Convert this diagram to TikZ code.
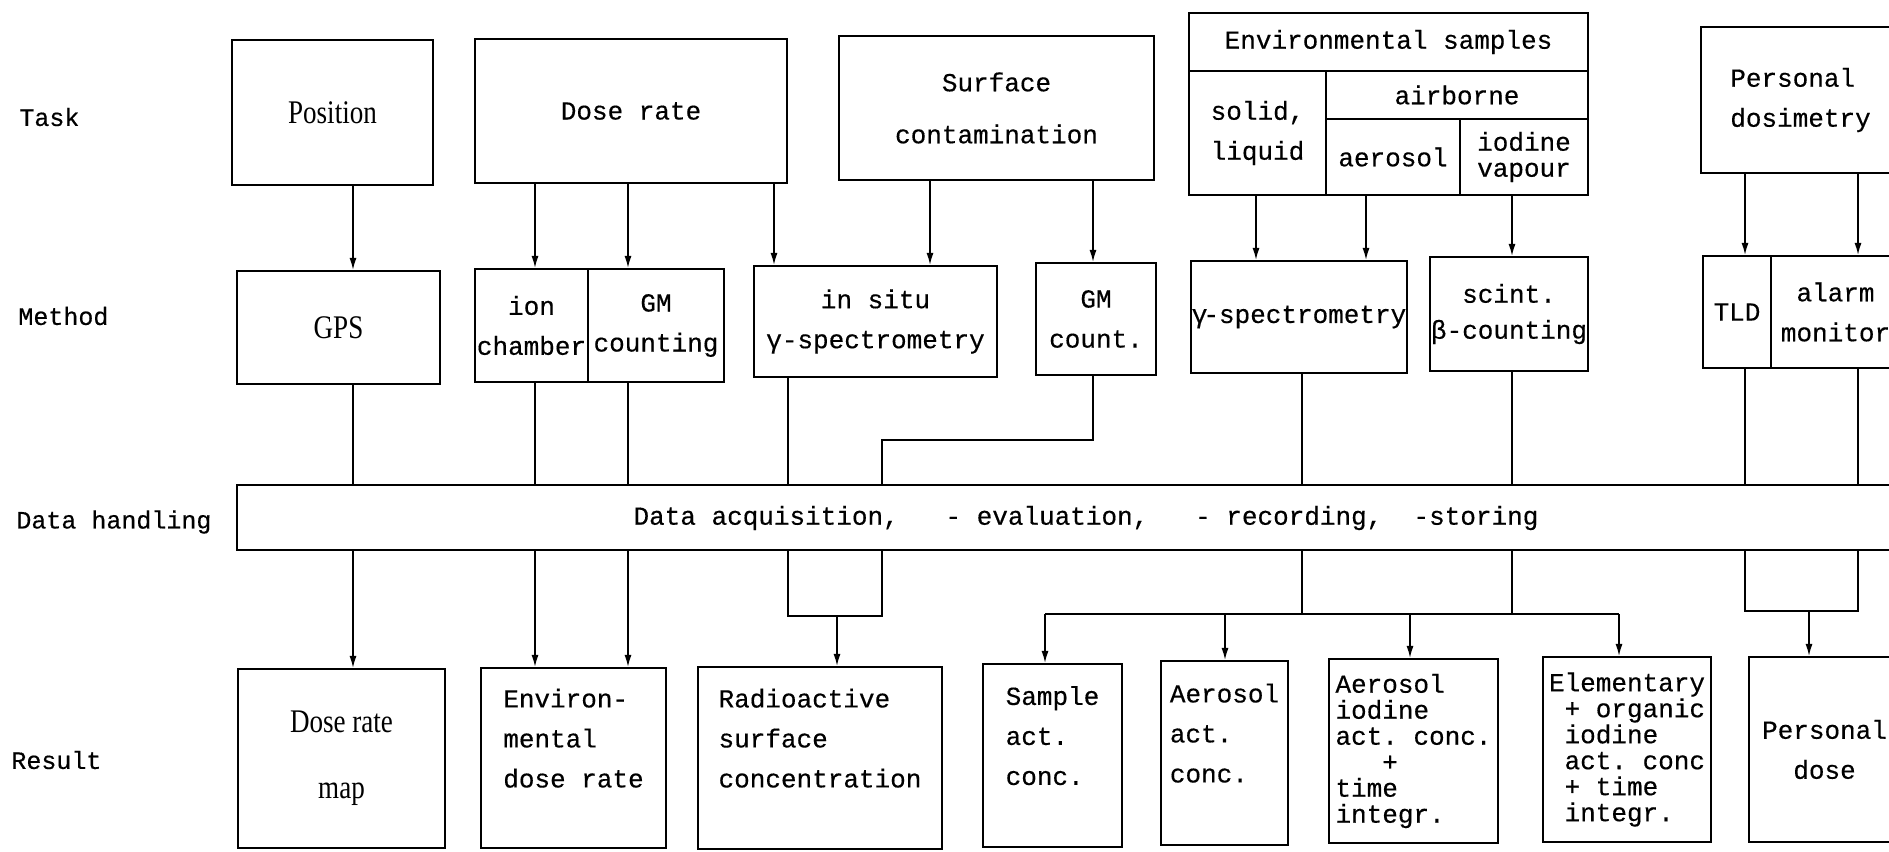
\documentclass[tikz,border=0pt]{standalone}
\usepackage{fontspec}
\setmainfont{Liberation Serif}
\setmonofont[FakeBold=0.4]{Liberation Mono}
\newfontfamily\narrowserif[FakeStretch=0.82]{Liberation Serif}
\usetikzlibrary{arrows.meta}
\tikzset{
 box/.style={draw,line width=1.1pt,inner sep=0pt,align=center,font=\ttfamily\fontsize{13}{20}\selectfont},
 rmbox/.style={box,font=\narrowserif\fontsize{16.5}{33}\selectfont},
 lab/.style={anchor=west,inner sep=0pt,font=\ttfamily\fontsize{12.5}{14}\selectfont},
 con/.style={line width=0.7pt},
 arr/.style={con,-{Latex[length=6pt,width=3.5pt]}}
}

\begin{document}
\begin{tikzpicture}[x=0.5pt,y=-0.5pt]
\useasboundingbox (0,0) rectangle (1889,851);
\clip (0,0) rectangle (1889,851);
 \node[lab] (task) at (19,117) {Task};
 \node[lab] (meth) at (18,316) {Method};
  \node[lab] (hand) at (16,522) {Data handling};
 \node[lab] (res) at (11,760) {Result};

 \node[rmbox,minimum width=100.5pt,minimum height=72.5pt] (pos) at (332.5,112.5) {Position};
 \node[box,minimum width=156pt,minimum height=72pt] (dose) at (631,111) {Dose rate};
 \node[box,minimum width=157.5pt,minimum height=72pt,font=\ttfamily\fontsize{13}{26}\selectfont] (surf) at (996.5,108) {Surface\\contamination};
  \node[box,minimum width=199.5pt,minimum height=29pt] (envh) at (1388.5,42) {Environmental samples};
  \node[box,minimum width=68.5pt,minimum height=62pt] (solid) at (1257.5,133) {solid,\\liquid};
  \node[box,minimum width=131pt,minimum height=24pt] (airb) at (1457,95) {airborne};
  \node[box,minimum width=67pt,minimum height=38pt] (aeros) at (1393,157) {aerosol};
  \node[box,minimum width=64pt,minimum height=38pt,font=\ttfamily\fontsize{13}{13}\selectfont] (iod) at (1524,157) {iodine\\vapour};
 \node[box,minimum width=99.5pt,minimum height=73pt,align=left] (pdos) at (1800.5,100) {Personal\\dosimetry};

 \node[rmbox,minimum width=101.5pt,minimum height=56.5pt] (gps) at (338.5,327.5) {GPS};
 \node[box,minimum width=56.5pt,minimum height=56.5pt] (ion) at (531.5,325.5) {ion\\chamber};
 \node[box,minimum width=68pt,minimum height=56.5pt] (gmc) at (656,325.5) {GM\\counting};
 \node[box,minimum width=121.5pt,minimum height=55.5pt] (insitu) at (875.5,321.5) {in situ\\γ-spectrometry};
 \node[box,minimum width=60pt,minimum height=56pt] (gmcnt) at (1096,319) {GM\\count.};
 \node[box,minimum width=108pt,minimum height=56pt] (gspec) at (1299,317) {γ\kern-2pt-spectrometry};
 \node[box,minimum width=79pt,minimum height=57pt,font=\ttfamily\fontsize{13}{18}\selectfont] (scint) at (1509,314) {scint.\\β-counting};
 \node[box,minimum width=34pt,minimum height=56pt] (tld) at (1737,312) {TLD};
 \node[box,minimum width=64.5pt,minimum height=56pt] (alarm) at (1835.5,312) {alarm\\monitor};

 \node[box,minimum width=831.5pt,minimum height=32.5pt] (data) at (1068.5,517.5) {};
 \node[font=\ttfamily\fontsize{13}{20}\selectfont,inner sep=0pt] (dtxt) at (1086,518) {Data acquisition,\ \ \ - evaluation,\ \ \ - recording,\ \ -storing};

 \node[rmbox,minimum width=103.5pt,minimum height=89.5pt] (map) at (341.5,758.5) {Dose rate\\map};
 \node[box,minimum width=92.5pt,minimum height=90pt,align=left] (envd) at (573.5,758) {Environ-\\mental\\dose rate\\~};
 \node[box,minimum width=122pt,minimum height=91pt,align=left] (rsc) at (820,758) {Radioactive\\surface\\concentration\\~};
 \node[box,minimum width=69.5pt,minimum height=91.5pt,align=left] (sam) at (1052.5,755.5) {Sample\\act.\\conc.\\~};
 \node[box,minimum width=63.5pt,minimum height=92pt,align=left] (aer) at (1224.5,753) {Aerosol\\act.\\conc.\\~};
 \node[box,minimum width=84.5pt,minimum height=92pt,align=left,font=\ttfamily\fontsize{13}{13}\selectfont] (aic) at (1413.5,751) {Aerosol\\iodine\\act. conc.\\\ \ \ +\\time\\integr.};
 \node[box,minimum width=84pt,minimum height=92.5pt,align=left,font=\ttfamily\fontsize{13}{13}\selectfont] (ele) at (1627,749.5) {Elementary\\\ + organic\\\ iodine\\\ act. conc\\\ + time\\\ integr.};
 \node[box,minimum width=75.5pt,minimum height=92.5pt] (pdose) at (1824.5,749.5) {Personal\\dose};

 \coordinate (xgps) at (353,0);
 \coordinate (xion) at (535,0);
 \coordinate (xgm) at (628,0);
 \coordinate (xdr) at (774,0);
 \coordinate (xsf1) at (930,0);
 \coordinate (xsf2) at (1093,0);
 \coordinate (xis) at (788,0);
 \coordinate (xgc) at (882,0);
 \coordinate (xrsc) at (837,0);
 \coordinate (xsol) at (1256,0);
 \coordinate (xaer) at (1366,0);
 \coordinate (xiod) at (1512,0);
 \coordinate (xgs) at (1302,0);
 \coordinate (xsam) at (1045,0);
 \coordinate (xaerc) at (1225,0);
 \coordinate (xaic) at (1410,0);
 \coordinate (xele) at (1619,0);
 \coordinate (xtld) at (1745,0);
 \coordinate (xal) at (1858,0);
 \coordinate (xpd) at (1809,0);
 \coordinate (yjog) at (0,440);
 \coordinate (ybr) at (0,616);
 \coordinate (ysp) at (0,614);
 \coordinate (ypb) at (0,611);

 \draw[arr] (pos.south -| xgps) -- (gps.north -| xgps);
 \draw[arr] (dose.south -| xion) -- (ion.north -| xion);
 \draw[arr] (dose.south -| xgm) -- (gmc.north -| xgm);
 \draw[arr] (dose.south -| xdr) -- (insitu.north -| xdr);
 \draw[arr] (surf.south -| xsf1) -- (insitu.north -| xsf1);
 \draw[arr] (surf.south -| xsf2) -- (gmcnt.north -| xsf2);
 \draw[arr] (solid.south -| xsol) -- (gspec.north -| xsol);
 \draw[arr] (aeros.south -| xaer) -- (gspec.north -| xaer);
 \draw[arr] (iod.south -| xiod) -- (scint.north -| xiod);
 \draw[arr] (pdos.south -| xtld) -- (tld.north -| xtld);
 \draw[arr] (pdos.south -| xal) -- (alarm.north -| xal);

 \draw[con] (gps.south -| xgps) -- (data.north -| xgps);
 \draw[con] (ion.south -| xion) -- (data.north -| xion);
 \draw[con] (gmc.south -| xgm) -- (data.north -| xgm);
 \draw[con] (insitu.south -| xis) -- (data.north -| xis);
 \draw[con] (gmcnt.south -| xsf2) |- (yjog -| xgc) -- (data.north -| xgc);
 \draw[con] (gspec.south -| xgs) -- (data.north -| xgs);
 \draw[con] (scint.south -| xiod) -- (data.north -| xiod);
 \draw[con] (tld.south -| xtld) -- (data.north -| xtld);
 \draw[con] (alarm.south -| xal) -- (data.north -| xal);

 \draw[arr] (data.south -| xgps) -- (map.north -| xgps);
 \draw[arr] (data.south -| xion) -- (envd.north -| xion);
 \draw[arr] (data.south -| xgm) -- (envd.north -| xgm);
 \draw[con] (data.south -| xis) |- (ybr -| xgc) -- (data.south -| xgc);
 \draw[arr] (ybr -| xrsc) -- (rsc.north -| xrsc);
 \draw[con] (data.south -| xgs) -- (ysp -| xgs);
 \draw[con] (data.south -| xiod) -- (ysp -| xiod);
 \draw[con] (ysp -| xsam) -- (ysp -| xele);
 \draw[arr] (ysp -| xsam) -- (sam.north -| xsam);
 \draw[arr] (ysp -| xaerc) -- (aer.north -| xaerc);
 \draw[arr] (ysp -| xaic) -- (aic.north -| xaic);
 \draw[arr] (ysp -| xele) -- (ele.north -| xele);
 \draw[con] (data.south -| xtld) |- (ypb -| xal) -- (data.south -| xal);
 \draw[arr] (ypb -| xpd) -- (pdose.north -| xpd);
\end{tikzpicture}
\end{document}
